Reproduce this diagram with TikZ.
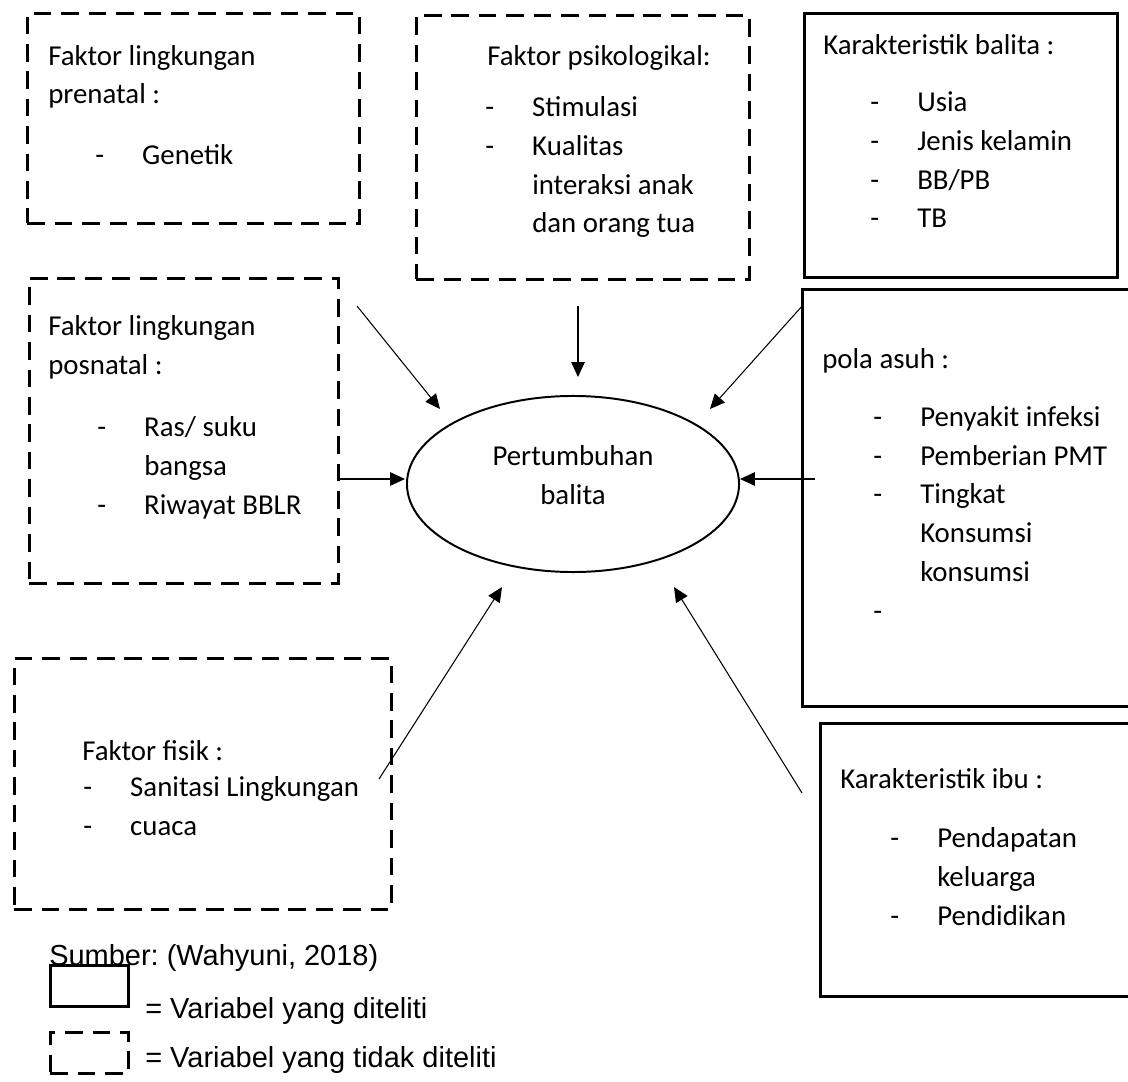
\documentclass[tikz,border=0pt]{standalone}
\usepackage{fontspec}
\setmainfont{Carlito}
\newfontfamily\arialfont{Liberation Sans}
\usetikzlibrary{arrows.meta,shapes.geometric}
\frenchspacing

\newlength{\dashw}
\setlength{\dashw}{33.4pt}
\newcommand{\itm}{\makebox[\dashw][l]{-}}
\newcommand{\cnt}{\hspace*{\dashw}}

\tikzset{
  txt/.style={inner sep=0pt, anchor=base west, align=left, font=\fontsize{20.5}{27.5}\selectfont},
  legtxt/.style={txt, font=\arialfont\fontsize{20.6}{27.5}\selectfont},
  sbox/.style={draw, line width=1.8pt, anchor=north west, inner sep=0pt},
  dbox/.style={sbox, dash pattern=on 12.5pt off 7pt},
  arr/.style={->, line width=0.75pt},
  >={Triangle[length=10.5pt,width=9.5pt]}
}

\begin{document}
\begin{tikzpicture}[x=0.025cm, y=-0.025cm]
    \useasboundingbox (0,0) rectangle (1128,1082);

    % BOXES
    \node[dbox, minimum width=8.3cm, minimum height=5.25cm] (prenatal) at (26,12) {};
    \node[dbox, minimum width=8.325cm, minimum height=6.6cm] (psiko) at (415,14) {};
    \node[sbox, minimum width=7.825cm, minimum height=6.6cm] (balita) at (803,12) {};
    \node[dbox, minimum width=7.725cm, minimum height=7.625cm] (posnatal) at (28,277) {};
    \node[sbox, minimum width=8.475cm, minimum height=10.425cm] (polaasuh) at (801,288) {};
    \node[dbox, minimum width=9.425cm, minimum height=6.275cm] (fisik) at (13,657) {};
    \node[sbox, minimum width=8.025cm, minimum height=6.825cm] (ibu) at (819,722) {};

    % TEXTS IN BOXES (base = last line)
    \node[txt] (prenatalT) at (48,104) {Faktor lingkungan\\prenatal :};
    \node[txt] (prenatalL) at (95,165) {\itm Genetik};

    \node[txt] (psikoT) at (487,66) {Faktor psikologikal:};
    \node[txt] (psikoL) at (485,233) {\itm Stimulasi\\\itm Kualitas\\\cnt interaksi anak\\\cnt dan orang tua};

    \node[txt] (balitaT) at (823,55) {Karakteristik balita :};
    \node[txt] (balitaL) at (870,228) {\itm Usia\\\itm Jenis kelamin\\\itm BB/PB\\\itm TB};

    \node[txt] (posnatalT) at (48,374) {Faktor lingkungan\\posnatal :};
    \node[txt] (posnatalL) at (97,514) {\itm Ras/ suku\\\cnt bangsa\\\itm Riwayat BBLR};

    \node[txt] (polaasuhT) at (822,368) {pola asuh :};
    \node[txt] (polaasuhL) at (873,620) {\itm Penyakit infeksi\\\itm Pemberian PMT\\\itm Tingkat\\\cnt Konsumsi\\\cnt konsumsi\\\itm};

    \node[txt] (fisikT) at (82,760) {Faktor fisik :};
    \node[txt] (fisikL) at (83,835) {\itm Sanitasi Lingkungan\\\itm cuaca};

    \node[txt] (ibuT) at (840,788) {Karakteristik ibu :};
    \node[txt] (ibuL) at (890,925) {\itm Pendapatan\\\cnt keluarga\\\itm Pendidikan};

    % CENTRE
    \node[draw, ellipse, line width=1.4pt, inner sep=0pt, minimum width=8.3cm, minimum height=4.4cm] (tumbuh) at (573,484) {};
    \node[txt, anchor=base, align=center] (tumbuhT) at (573,504) {Pertumbuhan\\balita};

    % ARROWS
    \coordinate (s1) at (357,306);  \coordinate (e1) at (440,409);
    \coordinate (s2) at (578,306);  \coordinate (e2) at (578,377);
    \coordinate (s3) at (803,305);  \coordinate (e3) at (710,409);
    \coordinate (s4) at (337,479);  \coordinate (e4) at (405,479);
    \coordinate (s5) at (815,479);  \coordinate (e5) at (740,479);
    \coordinate (s6) at (379,779);  \coordinate (e6) at (502,587);
    \coordinate (s7) at (802,793);  \coordinate (e7) at (674,587);
    \foreach \i in {1,...,7}
        \draw[arr] (s\i) -- (e\i);

    % LEGEND
    \node[legtxt] (sumber) at (49,965) {Sumber: (Wahyuni, 2018)};
    \node[sbox, minimum width=1.95cm, minimum height=1.025cm] (legsolid) at (49,964) {};
    \node[legtxt] (legsolidT) at (145,1018) {= Variabel yang diteliti};
    \node[dbox, minimum width=1.95cm, minimum height=1.025cm] (legdash) at (49,1031) {};
    \node[legtxt] (legdashT) at (145,1067) {= Variabel yang tidak diteliti};
\end{tikzpicture}
\end{document}
